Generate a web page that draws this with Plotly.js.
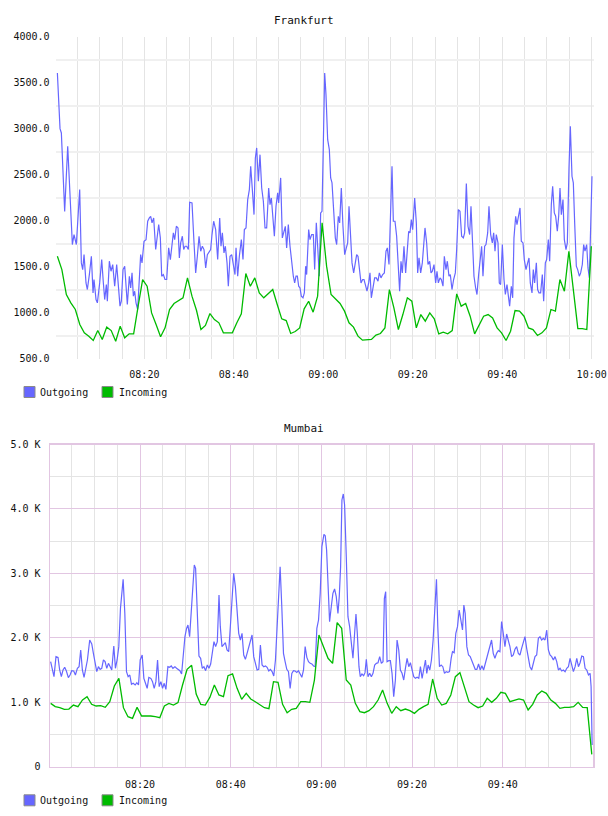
<!DOCTYPE html>
<html>
<head>
<meta charset="utf-8">
<script src="https://cdn.plot.ly/plotly-3.0.1.min.js"></script>
<style>
  html, body { margin: 0; padding: 0; background: #ffffff; }
  #chart { width: 608px; height: 816px; }
</style>
</head>
<body>
<div id="chart"></div>
<script>
// ---- Frankfurt --------------------------------------------------------------
// Outgoing traffic: sample time (minutes after 08:00) and value
const fraOutMinutes = [
  0.55,1.14,1.44,2.18,2.86,3.23,3.53,3.90,4.27,4.79,
  5.54,5.91,6.21,6.51,6.95,7.25,7.70,8.15,8.52,8.74,
  9.19,9.49,10.01,10.46,10.83,11.13,11.50,11.72,12.17,12.54,
  12.92,13.36,13.81,14.11,14.55,14.85,15.23,15.60,15.90,16.19,
  16.64,16.94,17.24,17.54,17.83,18.13,18.50,18.88,19.17,19.47,
  19.92,20.37,20.74,21.11,21.41,21.71,22.08,22.53,22.90,23.20,
  23.57,23.87,24.24,24.61,24.99,25.43,25.81,26.10,26.48,26.78,
  27.15,27.52,27.82,28.12,28.49,28.79,29.09,29.46,29.83,30.13,
  30.65,31.10,31.47,31.84,32.22,32.59,32.96,33.33,33.71,34.08,
  34.53,34.82,35.12,35.49,35.94,36.39,36.84,37.13,37.43,37.80,
  38.10,38.48,38.77,39.15,39.52,39.89,40.26,40.49,40.86,41.23,
  41.68,42.05,42.35,42.72,43.10,43.47,43.77,44.14,44.51,44.81,
  45.11,45.48,45.85,46.23,46.60,46.97,47.34,47.79,48.09,48.39,
  48.76,49.06,49.43,49.80,50.02,50.47,50.84,51.22,51.51,51.81,
  52.18,52.56,52.93,53.30,53.60,53.90,54.20,54.50,54.79,55.09,
  55.46,55.76,56.06,56.28,56.73,57.03,57.40,57.77,58.07,58.44,
  58.74,59.11,59.41,59.71,60.01,60.31,
  60.60,60.98,61.35,61.65,61.95,62.32,62.69,62.99,63.36,63.66,
  64.03,64.40,64.78,65.15,65.45,65.75,66.04,66.42,66.79,67.09,
  67.46,67.76,68.13,68.43,68.80,69.10,69.40,69.77,70.14,70.44,
  70.74,71.11,71.48,71.86,72.23,72.53,72.90,73.27,73.65,74.02,
  74.32,74.69,74.99,75.36,75.66,76.03,76.40,76.78,77.07,77.37,
  77.67,78.04,78.41,78.79,79.09,79.38,79.68,79.98,80.43,80.80,
  81.10,81.40,81.77,82.14,82.44,82.74,83.11,83.41,83.78,84.08,
  84.38,84.75,85.12,85.42,85.72,86.09,86.39,86.76,87.06,87.43,
  87.73,88.10,88.40,88.77,89.14,89.52,89.82,90.19,90.56,90.93,
  91.31,91.60,91.98,92.35,92.72,93.02,93.39,93.69,94.06,94.36,
  94.73,95.03,95.40,95.70,96.08,96.37,96.75,97.04,97.42,97.79,
  98.09,98.39,98.68,99.06,99.35,99.65,100.03,100.40,100.70,101.07,
  101.37,101.66,102.04,102.34,102.63,103.01,103.30,103.68,103.98,104.27,
  104.65,104.94,105.32,105.69,105.99,106.28,106.66,106.95,107.25,107.63,
  107.92,108.22,108.59,108.97,109.27,109.64,109.94,110.31,110.61,110.98,
  111.28,111.65,111.95,112.32,112.62,112.92,113.22,113.59,113.89,114.26,
  114.56,114.93,115.23,115.60,115.90,116.20,116.57,116.87,117.24,117.54,
  117.91,118.21,118.51,118.88,119.18,119.48,119.77,120.07
];
const fraOutValues = [
  3605,3000,2953,2100,2808,2373,2192,1739,1848,1739,
  2337,1540,1467,1630,1322,1250,1413,1612,1214,1359,
  1141,1105,1322,1576,1322,1141,1304,1123,1558,1449,
  1522,1286,1522,1322,1069,1123,1467,1504,1250,1087,
  1395,1268,1431,1178,1232,1105,1033,1395,1630,1540,
  1775,1793,1993,2029,2047,1975,2029,1685,1830,1957,
  1812,1395,1413,1359,1359,1703,1576,1721,1866,1793,
  1938,1920,1594,1757,1830,1685,1721,1721,1685,2199,
  2192,1757,1431,1612,1830,1667,1721,1685,1485,1630,
  1667,1685,1848,1993,1902,1576,2029,1721,1866,1649,
  1721,1540,1286,1612,1630,1504,1413,1703,1395,1612,
  1793,1576,1902,1920,2228,2337,2590,2337,2065,2681,
  2790,2428,2717,2355,2210,1920,1920,2355,2174,2246,
  2029,1830,2156,2301,2192,2464,1812,1902,1938,1703,
  1957,1721,1540,1395,1322,1395,1395,1286,1268,1178,
  1160,1214,1504,1413,1902,1793,1848,1848,1467,1975,
  1721,1395,2083,2101,2844,3605,
  3370,2880,2772,2464,2410,2120,1812,1739,2047,1975,
  2355,1938,1630,1703,1757,2156,1902,1540,1431,1504,
  1630,1612,1431,1322,1359,1359,1304,1232,1322,1431,
  1160,1286,1377,1377,1341,1431,1377,1413,1431,1667,
  1703,1522,1975,2590,1993,1993,1830,1540,1232,1558,
  1431,1721,1431,1685,1884,1866,2011,1902,2246,1975,
  1431,1594,1431,1540,1703,1920,1757,1522,1558,1431,
  1449,1522,1322,1449,1322,1377,1359,1286,1612,1467,
  1558,1395,1413,1250,1359,1431,1685,2120,2101,1830,
  1812,1866,2402,1938,1848,2156,1739,1395,1268,1196,
  1413,1540,1721,1395,1721,1739,1866,2156,1848,1757,
  1866,1667,1848,1757,1322,1304,1739,1359,1196,1304,
  1178,1069,1286,1160,1812,2047,1957,2047,2138,1775,
  1757,1576,1467,1540,1594,1322,1214,1467,1322,1540,
  1250,1214,1214,1413,1123,1540,1576,1793,1558,2174,
  2373,2083,2047,1884,2047,2355,2065,2228,1793,1685,
  1757,2572,3025,2482,2410,1975,1504,1467,1395,1431,
  1522,1739,1667,1739,1485,1377,2011,2482
];
// Incoming traffic: one sample a minute, first and last sample time
const fraInFirstMinute = 0.55;
const fraInLastMinute = 119.92;
const fraInValues = [
  1612,1467,1196,1105,1033,870,779,743,696,804,
  707,841,804,688,852,725,768,768,1069,1359,
  1286,996,870,736,833,1033,1098,1134,1160,1377,
  1178,1025,815,859,989,924,888,779,779,779,
  888,985,1424,1286,1377,1214,1160,1203,1250,1087,
  931,913,772,793,833,1040,1123,1004,1178,1975,
  1504,1196,1149,1098,1015,888,841,743,699,707,
  707,754,772,833,1250,1051,815,978,1160,1123,
  833,978,906,996,931,768,786,768,804,1203,
  1069,1098,960,768,870,960,978,942,833,779,
  696,797,1022,1015,960,833,815,750,779,833,
  1033,1015,1359,1232,1667,1250,826,826,815,1721
];

// ---- Mumbai -----------------------------------------------------------------
const mumOutMinutes = [
  0.29,0.66,1.03,1.47,1.92,2.28,2.65,3.02,3.39,3.76,
  4.20,4.57,4.94,5.38,5.75,6.19,6.56,6.92,7.29,7.66,
  8.03,8.40,8.91,9.36,9.72,10.09,10.46,10.83,11.20,11.56,
  11.93,12.30,12.67,13.04,13.41,13.77,14.22,14.58,14.95,15.32,
  15.69,16.28,16.65,17.02,17.38,17.75,18.12,18.49,18.93,19.30,
  19.67,20.04,20.48,20.85,21.21,21.58,21.95,22.39,22.76,23.13,
  23.50,23.87,24.23,24.60,24.97,25.34,25.71,26.15,26.52,26.89,
  27.25,27.70,28.06,28.43,28.80,29.17,29.54,29.91,30.27,30.57,
  30.94,31.31,31.67,31.97,32.26,32.63,33.00,33.37,33.74,34.10,
  34.47,34.84,35.21,35.58,35.95,36.31,36.68,37.05,37.42,37.71,
  38.08,38.45,38.82,39.19,39.56,39.92,40.29,40.66,41.03,41.40,
  41.77,42.13,42.50,42.87,43.24,43.61,43.98,44.34,44.71,45.08,
  45.45,45.82,46.19,46.55,46.92,47.29,47.66,48.03,48.40,48.76,
  49.13,49.50,49.87,50.24,50.60,50.90,51.27,51.64,52.00,52.37,
  52.74,53.11,53.48,53.85,54.21,54.58,54.95,55.32,55.69,56.06,
  56.42,56.79,57.16,57.53,57.90,58.27,58.63,59.00,59.37,59.74,
  60.11,
  60.56,60.85,61.15,61.44,61.81,62.18,62.54,62.91,63.28,63.65,
  63.94,64.24,64.53,64.83,65.12,65.49,65.86,66.23,66.60,66.96,
  67.33,67.63,67.92,68.29,68.58,68.95,69.32,69.62,69.91,70.28,
  70.65,71.02,71.38,71.75,72.12,72.49,72.86,73.23,73.59,73.89,
  74.18,74.48,74.85,75.21,75.58,75.95,76.32,76.69,77.06,77.42,
  77.79,78.16,78.53,78.90,79.27,79.63,80.00,80.37,80.74,81.11,
  81.48,81.84,82.21,82.58,82.95,83.24,83.54,83.91,84.27,84.64,
  85.01,85.38,85.67,86.04,86.41,86.78,87.15,87.52,87.88,88.25,
  88.62,88.91,89.28,89.65,90.02,90.39,90.76,91.12,91.42,91.71,
  92.08,92.45,92.82,93.19,93.56,93.92,94.29,94.66,95.03,95.40,
  95.77,96.06,96.43,96.80,97.16,97.53,97.90,98.27,98.64,99.01,
  99.37,99.74,100.11,100.48,100.85,101.22,101.58,101.95,102.32,102.69,
  103.06,103.43,103.79,104.16,104.53,104.90,105.27,105.64,106.00,106.37,
  106.74,107.11,107.48,107.85,108.21,108.58,108.95,109.32,109.69,110.06,
  110.42,110.79,111.16,111.53,111.90,112.27,112.63,113.00,113.37,113.74,
  114.11,114.48,114.84,115.21,115.58,115.95,116.32,116.69,117.05,117.42,
  117.79,118.16,118.53,118.90,119.26,119.48,119.71
];
const mumOutValues = [
  1630,1501,1397,1708,1697,1501,1397,1501,1542,1485,
  1382,1423,1490,1485,1423,1527,1552,1811,1501,1387,
  1527,1656,1966,1904,1759,1604,1475,1552,1511,1527,
  1656,1630,1527,1604,1542,1501,1873,1527,1656,1863,
  2458,2908,2380,1475,1397,1423,1278,1294,1268,1304,
  1268,1656,1733,1371,1294,1216,1387,1371,1320,1216,
  1320,1656,1242,1320,1216,1294,1200,1552,1542,1563,
  1527,1552,1527,1511,1490,1439,1708,2018,2147,2199,
  2018,2432,2897,3130,3078,2328,1718,1682,1527,1552,
  1490,1578,1527,1594,1759,1940,1863,1940,2665,2173,
  1863,1889,1925,1811,1785,2173,2690,3001,2794,2380,
  2070,1966,2070,1733,1666,1759,1863,1925,2044,1708,
  1604,1501,1511,1889,1578,1552,1563,1542,1485,1511,
  1475,1408,1656,2173,2794,3104,2483,1759,1630,1511,
  1475,1216,1449,1490,1485,1464,1490,1449,1387,1501,
  1863,1697,1630,1604,1594,1563,1552,2147,2276,2690,
  3415,
  3606,3585,3363,2846,2251,2483,2690,2758,2639,2380,
  2639,3104,4139,4232,4061,3259,2328,2173,1914,1682,
  2070,2370,2070,1552,1397,1439,1413,1459,1666,1397,
  1449,1397,1449,1578,1604,1614,1708,1604,1630,2613,
  2716,1630,1645,1645,1449,1087,1345,1966,1811,1501,
  1449,1345,1527,1682,1552,1614,1501,1397,1371,1387,
  1371,1552,1371,1501,1656,1449,1578,1501,1656,1966,
  2380,2908,2173,1552,1578,1552,1449,1475,1464,1475,
  1682,1785,1770,2070,2173,2432,2276,2121,2509,2380,
  1863,1733,1708,1630,1552,1511,1511,1594,1501,1568,
  1501,1578,1708,1811,1889,1966,1759,1682,1759,1801,
  1785,2251,2070,1863,2059,1966,1863,1708,1733,1822,
  1863,1759,1733,1837,1940,2018,1837,1682,1552,1501,
  1630,1708,1733,1992,2018,1966,1992,1966,2121,1811,
  1733,1708,1656,1708,1630,1501,1527,1485,1501,1475,
  1527,1552,1682,1552,1475,1552,1682,1552,1614,1718,
  1708,1527,1501,1423,1449,1242,337
];
const mumInFirstMinute = 0.3;
const mumInLastMinute = 119.63;
const mumInValues = [
  983,932,916,890,895,957,932,1035,1087,968,
  942,947,921,1009,1252,1371,916,776,750,921,
  787,792,787,776,761,942,983,957,994,1268,
  1511,1573,1128,968,957,1076,1268,1113,1087,1413,
  1439,1216,1045,1138,1051,1009,957,916,900,1320,
  1309,968,838,890,906,1009,1009,999,1345,
  2044,1863,1682,1604,2235,2147,1345,1268,983,854,
  838,869,932,1035,1190,983,828,932,869,895,
  869,828,890,932,968,1361,1061,957,983,1113,
  1397,1459,1242,1009,957,916,942,1061,999,1061,
  1154,1138,1009,1035,1051,1035,880,968,1113,1175,
  1138,1035,983,906,921,921,932,999,921,916,192
];

// ---- labels & styling -------------------------------------------------------
const chartTitles = ['Frankfurt', 'Mumbai'];
const seriesNames = ['Outgoing', 'Incoming'];
const seriesColors = ['#6666ff', '#00bb00'];
const mumTickValues = [0, 1000, 2000, 3000, 4000, 5000];
const mumTickText = ['0', '1.0 K', '2.0 K', '3.0 K', '4.0 K', '5.0 K'];

const DAY = '2024-05-14';
const FONT = 'DejaVu Sans Mono, monospace';
const W = 608, H = 816;

// minutes after 08:00 -> plotly date string
function stamp(min) {
  const ms = Math.round(min * 60000);
  const two = n => String(n).padStart(2, '0');
  const h = 8 + Math.floor(ms / 3600000);
  const m = Math.floor((ms % 3600000) / 60000);
  const s = (ms % 60000) / 1000;
  return `${DAY} ${two(h)}:${two(m)}:${s.toFixed(3).padStart(6, '0')}`;
}
// evenly spaced sample times between a first and a last sample
function sampleTimes(first, last, n) {
  const step = (last - first) / (n - 1);
  return Array.from({ length: n }, (_, i) => stamp(first + i * step));
}

const px = x => x / W;          // page pixel -> paper x
const py = y => 1 - y / H;      // page pixel -> paper y

function line(xs, ys, k, xa, ya) {
  return {
    type: 'scatter', mode: 'lines', x: xs, y: ys, name: seriesNames[k],
    xaxis: xa, yaxis: ya, hoverinfo: 'skip', showlegend: false,
    line: { color: seriesColors[k], width: k === 0 ? 1.2 : 1.3 }
  };
}

const traces = [
  line(fraOutMinutes.map(stamp), fraOutValues, 0, 'x', 'y'),
  line(sampleTimes(fraInFirstMinute, fraInLastMinute, fraInValues.length), fraInValues, 1, 'x', 'y'),
  line(mumOutMinutes.map(stamp), mumOutValues, 0, 'x2', 'y2'),
  line(sampleTimes(mumInFirstMinute, mumInLastMinute, mumInValues.length), mumInValues, 1, 'x2', 'y2')
];

const GREY = '#e4e4e4';
const LIGHT = '#f0f0f0';
const PLUM = '#e2c6e2';
const tickFont = { family: FONT, size: 10, color: '#111' };

const layout = {
  width: W, height: H, autosize: false,
  margin: { l: 0, r: 0, t: 0, b: 0 },
  paper_bgcolor: '#ffffff', plot_bgcolor: '#ffffff',
  showlegend: false,
  font: { family: FONT, size: 10, color: '#111' },
  xaxis: {
    type: 'date', anchor: 'y', domain: [px(55.5), px(593.5)],
    range: [stamp(0.13), stamp(120.41)],
    tick0: stamp(0), dtick: 20 * 60000, tickformat: '%H:%M',
    ticks: '', ticklabelstandoff: 8, tickfont: tickFont,
    showgrid: true, gridcolor: GREY, gridwidth: 1,
    minor: { dtick: 5 * 60000, showgrid: true, gridcolor: GREY, gridwidth: 1 },
    showline: false, zeroline: false
  },
  yaxis: {
    anchor: 'x', domain: [py(358.5), py(36.7)],
    range: [500, 4000], tick0: 500, dtick: 500, tickformat: '.1f',
    ticks: '', ticklabelstandoff: 5, tickfont: tickFont,
    showgrid: false,
    minor: { tick0: 250, dtick: 500, showgrid: true, gridcolor: LIGHT, gridwidth: 2 },
    showline: false, zeroline: false
  },
  xaxis2: {
    type: 'date', anchor: 'y2', domain: [px(50), px(593)],
    range: [stamp(0.15), stamp(119.9)],
    tick0: stamp(0), dtick: 20 * 60000, tickformat: '%H:%M',
    ticks: '', ticklabelstandoff: 8, tickfont: tickFont,
    showgrid: true, gridcolor: PLUM, gridwidth: 1,
    minor: { dtick: 5 * 60000, showgrid: true, gridcolor: GREY, gridwidth: 1 },
    showline: true, mirror: true, linecolor: PLUM, linewidth: 1.5, zeroline: false
  },
  yaxis2: {
    anchor: 'x2', domain: [py(766.7), py(444.5)],
    range: [0, 5000], tickmode: 'array', tickvals: mumTickValues, ticktext: mumTickText,
    ticks: '', ticklabelstandoff: 6, tickfont: tickFont,
    showgrid: true, gridcolor: PLUM, gridwidth: 1,
    minor: { dtick: 500, showgrid: true, gridcolor: GREY, gridwidth: 1 },
    showline: true, mirror: true, linecolor: PLUM, linewidth: 1.5, zeroline: false
  },
  annotations: [],
  shapes: []
};

// chart titles
[[chartTitles[0], 20.5], [chartTitles[1], 428.5]].forEach(([text, y]) => {
  layout.annotations.push({
    text, xref: 'paper', yref: 'paper', x: 0.5, y: py(y),
    xanchor: 'center', yanchor: 'middle', showarrow: false,
    font: { family: FONT, size: 11, color: '#111' }
  });
});

// legend rows under each chart: coloured box + name
const legendRows = [392, 800.3];
const legendItems = [{ box: 24, text: 39 }, { box: 102, text: 118 }];
legendRows.forEach(cy => {
  legendItems.forEach((item, k) => {
    layout.shapes.push({
      type: 'rect', xref: 'paper', yref: 'paper', layer: 'above',
      x0: px(item.box), x1: px(item.box + 11), y0: py(cy + 5.5), y1: py(cy - 5.5),
      fillcolor: seriesColors[k], line: { color: '#8a8a8a', width: 1 }
    });
    layout.annotations.push({
      text: seriesNames[k], xref: 'paper', yref: 'paper',
      x: px(item.text - 1), y: py(cy), xanchor: 'left', yanchor: 'middle',
      showarrow: false, font: { family: FONT, size: 10, color: '#111' }
    });
  });
});

Plotly.newPlot('chart', traces, layout, { staticPlot: true, displayModeBar: false });
</script>
</body>
</html>
